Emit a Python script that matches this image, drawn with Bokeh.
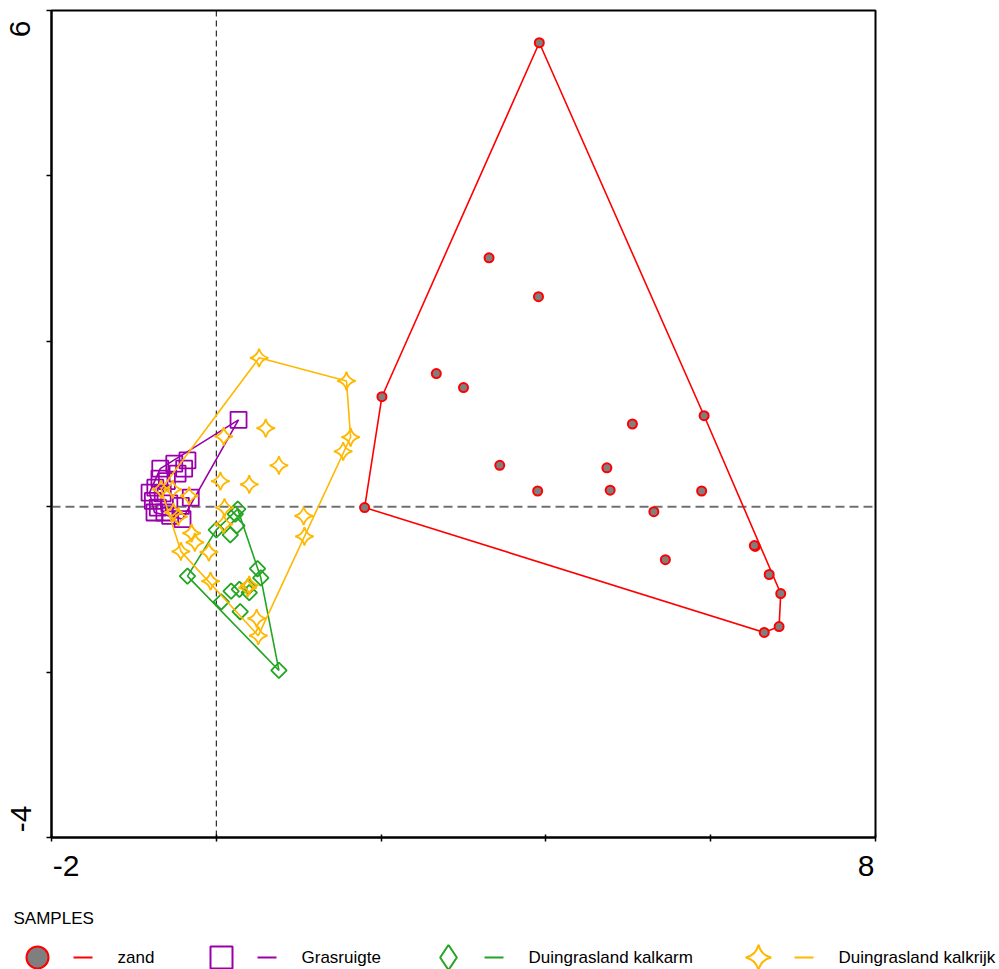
import math
from bokeh.plotting import figure
from bokeh.models import Range1d, FixedTicker, Span, LinearAxis
from bokeh.embed import file_html
from bokeh.resources import INLINE
from bokeh.core.properties import value

# ---------------- data ----------------
x_ticks = [-2, 0, 2, 4, 6, 8]
y_ticks = [-4, -2, 0, 2, 4, 6]
x_tick_labels = {-2: "-2", 8: "8"}
y_tick_labels = {6: "6", -4: "-4"}

group_names = ["zand", "Grasruigte", "Duingrasland kalkarm", "Duingrasland kalkrijk"]
legend_title = "SAMPLES"

zand_x = [3.31, 3.91, 3.92, 2.67, 3.00, 2.01, 5.05, 5.92, 3.44, 4.74, 3.90, 4.78, 5.89,
          1.80, 5.31, 5.45, 6.54, 6.53, 6.71, 6.85, 6.83, 6.65]
zand_y = [3.01, 2.54, 5.61, 1.61, 1.44, 1.33, 1.00, 1.10, 0.50, 0.47, 0.19, 0.20, 0.19,
          -0.01, -0.06, -0.64, -0.48, -0.47, -0.82, -1.05, -1.45, -1.52]

gras_x = [-0.68, -0.51, -0.35, -0.39, -0.47, -0.74, -0.77, -0.71, -0.75, -0.63, -0.57,
          -0.43, -0.31, -0.41, -0.56, -0.65, 0.27, -0.81, -0.60, -0.69]
gras_y = [0.46, 0.52, 0.56, 0.46, 0.40, 0.23, 0.07, -0.01, -0.07, -0.07, 0.04,
          0.01, 0.11, -0.15, -0.11, 0.16, 1.05, 0.17, 0.31, 0.34]

karm_x = [0.26, 0.23, 0.00, 0.17, 0.25, -0.35, 0.50, 0.54, 0.18, 0.39, 0.28, 0.40, 0.06, 0.29, 0.76]
karm_y = [-0.03, -0.09, -0.28, -0.34, -0.23, -0.84, -0.75, -0.86, -1.02, -0.97, -1.00, -1.04,
          -1.15, -1.27, -1.98]

krijk_x = [0.52, 1.58, 1.63, 1.54, 0.60, 0.09, 0.76, 0.40, 0.05, 1.06, 1.07, 0.10, 0.09,
           -0.30, -0.26, -0.43, -0.09, -0.07, 0.38, 0.40, 0.49, 0.51, -0.33, -0.46, -0.52,
           -0.67, -0.53]
krijk_y = [1.80, 1.52, 0.84, 0.67, 0.95, 0.85, 0.50, 0.27, 0.31, -0.11, -0.36, -0.01, -0.21,
           -0.32, -0.43, -0.54, -0.55, -0.90, -0.98, -0.95, -1.35, -1.56, 0.13, -0.12, -0.07,
           0.21, 0.21]

# ---------------- styles / layout ----------------
RED = "#ff0000"
PURPLE = "#9900aa"
GREEN = "#22a522"
YELLOW = "#ffb800"
FONT = "Liberation Sans"

W = 999
FRAME_W, FRAME_H = 824, 827
BORDER_L, BORDER_T = 51, 10
MAIN_H = 890
LEG_H = 969 - MAIN_H

# end labels are drawn inside the range (shifted inward by these screen px;
# x: positive = right, y: positive = up)
x_label_shift_px = {-2: 14.5, 8: -9.5}
y_label_shift_px = {6: -18.5, -4: 18.5}


def hull(xs, ys):
    pts = sorted(set(zip(xs, ys)))
    if len(pts) < 3:
        return [p[0] for p in pts], [p[1] for p in pts]

    def cross(o, a, b):
        return (a[0] - o[0]) * (b[1] - o[1]) - (a[1] - o[1]) * (b[0] - o[0])

    lower, upper = [], []
    for pt in pts:
        while len(lower) >= 2 and cross(lower[-2], lower[-1], pt) <= 0:
            lower.pop()
        lower.append(pt)
    for pt in reversed(pts):
        while len(upper) >= 2 and cross(upper[-2], upper[-1], pt) <= 0:
            upper.pop()
        upper.append(pt)
    h = lower[:-1] + upper[:-1]
    h.append(h[0])
    return [p[0] for p in h], [p[1] for p in h]


x0, x1 = x_ticks[0], x_ticks[-1]
y0, y1 = y_ticks[0], y_ticks[-1]
p = figure(width=W, height=MAIN_H, x_range=Range1d(x0, x1), y_range=Range1d(y0, y1),
           output_backend="svg", toolbar_location=None,
           min_border_left=BORDER_L, min_border_right=W - BORDER_L - FRAME_W,
           min_border_top=BORDER_T, min_border_bottom=MAIN_H - BORDER_T - FRAME_H,
           outline_line_color="black", outline_line_width=2, outline_line_alpha=1.0)
p.grid.visible = False

for ax, ticks in ((p.xaxis, x_ticks), (p.yaxis, y_ticks)):
    ax.ticker = FixedTicker(ticks=ticks)
    ax.major_label_overrides = {t: "" for t in ticks}
    ax.major_label_standoff = 0
    ax.axis_line_width = 2
    ax.axis_line_color = "black"
    ax.major_tick_line_width = 1.5
    ax.minor_tick_line_color = None
p.xaxis.major_tick_in = 3
p.xaxis.major_tick_out = 4
p.yaxis.major_tick_in = 0
p.yaxis.major_tick_out = 5

# label-only axes for the two end labels of each axis
ppx = FRAME_W / (x1 - x0)
ppy = FRAME_H / (y1 - y0)
xl_pos = {round(t + x_label_shift_px[t] / ppx, 4): s for t, s in x_tick_labels.items()}
yl_pos = {round(t + y_label_shift_px[t] / ppy, 4): s for t, s in y_tick_labels.items()}

xlab = LinearAxis(ticker=FixedTicker(ticks=list(xl_pos)), major_label_overrides=xl_pos,
                  axis_line_color=None, major_tick_line_color=None, minor_tick_line_color=None,
                  major_label_standoff=8, major_label_text_font_size="30px",
                  major_label_text_font=FONT, major_label_text_color="black")
p.add_layout(xlab, "below")
ylab = LinearAxis(ticker=FixedTicker(ticks=list(yl_pos)), major_label_overrides=yl_pos,
                  axis_line_color=None, major_tick_line_color=None, minor_tick_line_color=None,
                  major_label_standoff=10, major_label_text_font_size="30px",
                  major_label_orientation="vertical",
                  major_label_text_font=FONT, major_label_text_color="black")
p.add_layout(ylab, "left")

p.add_layout(Span(location=0, dimension="height", line_color="black", line_width=1,
                  line_dash="6 4", level="underlay"))
p.add_layout(Span(location=0, dimension="width", line_color="#707070", line_width=2,
                  line_dash="9 5", level="underlay"))

# zand
hx, hy = hull(zand_x, zand_y)
p.line(hx, hy, line_color=RED, line_width=1.6)
p.scatter(zand_x, zand_y, marker="circle", size=9, fill_color="#7f7f7f",
          line_color=RED, line_width=2)

# Grasruigte
hx, hy = hull(gras_x, gras_y)
p.line(hx, hy, line_color=PURPLE, line_width=1.6)
p.scatter(gras_x, gras_y, marker="square", size=16, fill_color=None,
          line_color=PURPLE, line_width=1.8)

# kalkarm
hx, hy = hull(karm_x, karm_y)
p.line(hx, hy, line_color=GREEN, line_width=1.6)
p.scatter(karm_x, karm_y, marker="square", size=11, angle=math.pi / 4, fill_color=None,
          line_color=GREEN, line_width=1.8)

# kalkrijk
hx, hy = hull(krijk_x, krijk_y)
p.line(hx, hy, line_color=YELLOW, line_width=1.6)
p.scatter(krijk_x, krijk_y, marker="square_pin", size=13, angle=math.pi / 4, fill_color=None,
          line_color=YELLOW, line_width=1.8)

# ---------------- legend (separate root, screen-pixel coordinates) ----------------
leg = figure(width=W, height=LEG_H, x_range=Range1d(0, W), y_range=Range1d(0, LEG_H),
             output_backend="svg", toolbar_location=None, x_axis_type=None, y_axis_type=None,
             min_border=0, outline_line_color=None)
leg.grid.visible = False

leg_x = [37, 221, 448, 758]
row_y = 12
title_y = 51
colors = [RED, PURPLE, GREEN, YELLOW]
leg.text([13], [title_y], text=[legend_title], text_font=value(FONT), text_font_size="17px",
         text_baseline="middle", text_align="left", text_color="black")
specs = [
    dict(marker="circle", size=22, fill_color="#7f7f7f", line_color=RED, line_width=2),
    dict(marker="square", size=22, fill_color=None, line_color=PURPLE, line_width=2),
    dict(marker="diamond", size=25, fill_color=None, line_color=GREEN, line_width=2),
    dict(marker="square_pin", size=18, angle=math.pi / 4, fill_color=None, line_color=YELLOW, line_width=2),
]
for i, name in enumerate(group_names):
    X = leg_x[i]
    leg.scatter([X], [row_y], **specs[i])
    leg.segment([X + 36], [row_y], [X + 55], [row_y], line_color=colors[i], line_width=2)
    leg.text([X + 80], [row_y], text=[name], text_font=value(FONT), text_font_size="17px",
             text_baseline="middle", text_align="left", text_color="black")

open("out.html", "w").write(file_html([p, leg], INLINE))
